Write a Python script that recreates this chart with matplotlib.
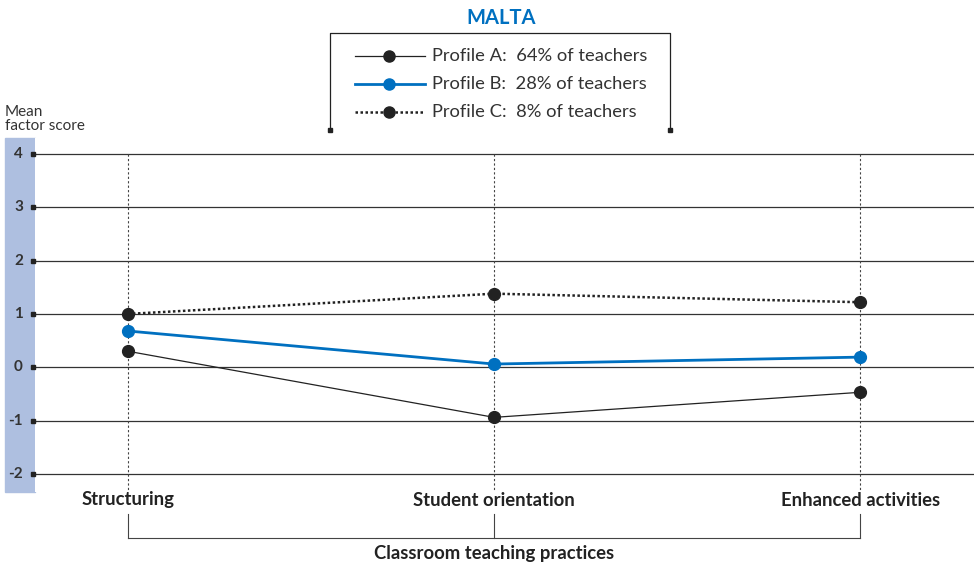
import matplotlib.pyplot as plt
from matplotlib.lines import Line2D
from matplotlib.patches import Rectangle
from matplotlib.transforms import blended_transform_factory

# data
categories = ["Structuring", "Student orientation", "Enhanced activities"]
profile_a = [0.30, -0.94, -0.47]
profile_b = [0.68, 0.06, 0.19]
profile_c = [1.00, 1.38, 1.22]
labels = ["Profile A:  64% of teachers", "Profile B:  28% of teachers", "Profile C:  8% of teachers"]
yticks = [4, 3, 2, 1, 0, -1, -2]

W, H = 974, 566
blue = "#0070c0"
band = "#aebfe0"
plt.rcParams['font.family'] = ["Lato", "DejaVu Sans"]
fy = lambda py: (H - py) / H

fig = plt.figure(figsize=(W / 100, H / 100), dpi=100)
ax = fig.add_axes([35 / W, fy(492), 1 - 35 / W, (492 - 138) / H])
ax.set_xlim(-0.254, 2.311)
ax.set_ylim(-2.34, 4.30)
for s in ax.spines.values():
    s.set_visible(False)
ax.set_xticks([])
ax.set_yticks([])

# blue band behind y labels
fig.patches.append(Rectangle((5 / W, fy(492)), 30 / W, (492 - 138) / H,
                             transform=fig.transFigure, color=band, zorder=-1))

yt = blended_transform_factory(fig.transFigure, ax.transData)
for t in yticks:
    ax.axhline(t, color="#333333", lw=0.9, zorder=1)
    ax.plot([33 / W], [t], transform=yt, marker="s", ms=3.5, color="#222222",
            clip_on=False, zorder=3)
    ax.text(23 / W, t, str(t), transform=yt, ha="right", va="center", fontsize=11,
            fontweight="bold", color="#333333")

x = list(range(len(categories)))
for xi in x:
    ax.plot([xi, xi], [4, -2.34], ls=(0, (2, 2)), color="#444444", lw=0.8, zorder=1)

ax.plot(x, profile_a, color="#222222", lw=0.9, marker="o", ms=8.5, zorder=4)
ax.plot(x, profile_b, color=blue, lw=2.0, marker="o", ms=8.5, zorder=4)
ax.plot(x, profile_c, color="#222222", lw=1.8, ls=(0, (1, 1)), marker="o", ms=8.5, zorder=4)

fig.text(5 / W, fy(119), "Mean\nfactor score", fontsize=11, color="#333333",
         ha="left", va="center", linespacing=0.95)

# category labels and bracket (x in data, y in figure)
bt = blended_transform_factory(ax.transData, fig.transFigure)
for xi, c in zip(x, categories):
    ax.text(xi, fy(500), c, transform=bt, ha="center", va="center", fontsize=13.3,
            fontweight="bold", color="#222222")
    ax.plot([xi, xi], [fy(514), fy(538)], transform=bt, color="#444444", lw=0.8, clip_on=False)
ax.plot([0, 2], [fy(538), fy(538)], transform=bt, color="#444444", lw=0.8, clip_on=False)
ax.text(1, fy(553), "Classroom teaching practices", transform=bt, ha="center", va="center",
        fontsize=13.3, fontweight="bold", color="#222222")

# title and legend box
fig.text(501 / W, fy(18), "MALTA", ha="center", va="center", fontsize=14.5,
         fontweight="bold", color=blue)
lx0, lx1, ly0, ly1 = 330 / W, 670 / W, fy(33), fy(130)
fig.add_artist(Line2D([lx0, lx0, lx1, lx1], [ly1, ly0, ly0, ly1], color="#222222", lw=0.9))
for px in (lx0, lx1):
    fig.add_artist(Line2D([px], [ly1], marker="s", ms=3, color="#222222"))
styles = [dict(color="#222222", lw=0.9, ls="-"),
          dict(color=blue, lw=2.0, ls="-"),
          dict(color="#222222", lw=1.8, ls=(0, (1, 1)))]
for i, (lab, st) in enumerate(zip(labels, styles)):
    yy = fy(56 + 28 * i)
    fig.add_artist(Line2D([355 / W, 425 / W], [yy, yy], **st))
    fig.add_artist(Line2D([389 / W], [yy], marker="o", ms=8, color=st["color"], ls=""))
    fig.text(432 / W, yy, lab, ha="left", va="center", fontsize=13.2, color="#333333")

fig.savefig("out.png", dpi=100)
